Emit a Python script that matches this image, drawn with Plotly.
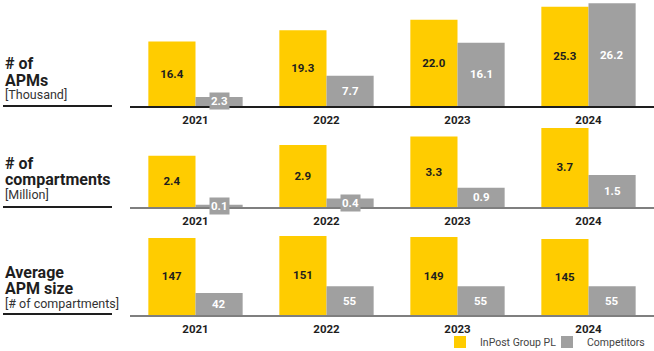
import plotly.graph_objects as go
from plotly.subplots import make_subplots

years = ["2021", "2022", "2023", "2024"]
apms_inpost = [16.4, 19.3, 22.0, 25.3]
apms_comp = [2.3, 7.7, 16.1, 26.2]
comp_inpost = [2.4, 2.9, 3.3, 3.7]
comp_comp = [0.1, 0.4, 0.9, 1.5]
size_inpost = [147, 151, 149, 145]
size_comp = [42, 55, 55, 55]

panel_titles = [("# of", "APMs", "[Thousand]"),
                ("# of", "compartments", "[Million]"),
                ("Average", "APM size", "[# of compartments]")]
fmt = [".1f", ".1f", ".0f"]

YELLOW = "#FFCC00"
GRAY = "#A0A0A0"
DARK = "#1E1E1E"
FONT = "Roboto, Liberation Sans, Arial, sans-serif"

W, H = 654, 351
def py(px):
    return 1 - px / H

# panel pixel geometry: (top, baseline) and y-range max
panels = [(0, 106, 27.0), (120, 207, 4.07), (225, 315, 171.8)]

fig = make_subplots(rows=3, cols=1)
series = [(apms_inpost, apms_comp), (comp_inpost, comp_comp), (size_inpost, size_comp)]

for i, ((inp, comp), f) in enumerate(zip(series, fmt)):
    r = i + 1
    fig.add_trace(go.Bar(x=years, y=inp, name="InPost Group PL", marker_color=YELLOW,
                         marker_line_width=0,
                         text=[format(v, f) for v in inp], textposition="inside",
                         insidetextanchor="middle", textangle=0, constraintext="none",
                         textfont=dict(family=FONT, size=11.5, color=DARK, weight="bold"),
                         showlegend=(i == 2), legendrank=1, hoverinfo="skip"), row=r, col=1)
    fig.add_trace(go.Bar(x=years, y=comp, name="Competitors", marker_color=GRAY,
                         marker_line_width=0, showlegend=(i == 2), legendrank=2,
                         hoverinfo="skip"), row=r, col=1)
    xref = "x" if r == 1 else f"x{r}"
    yref = "y" if r == 1 else f"y{r}"
    for j, v in enumerate(comp):
        fig.add_annotation(x=j, y=v / 2, xref=xref, yref=yref, xshift=23.5,
                           text=format(v, f), showarrow=False, bgcolor=GRAY,
                           borderpad=1,
                           font=dict(family=FONT, size=11.5, color="white", weight="bold"))

x0 = 130 / W
for i, (top, base, ymax) in enumerate(panels):
    r = i + 1
    fig.update_xaxes(row=r, col=1, domain=[x0, 1], type="category",
                     range=[-0.5, len(years) - 0.5], showline=True,
                     linecolor=(DARK if i == 0 else "#7F7F7F"), linewidth=2,
                     showgrid=False, zeroline=False, ticks="", ticklabelstandoff=2,
                     tickfont=dict(family=FONT, size=11.5, color=DARK, weight="bold"),
                     fixedrange=True)
    fig.update_yaxes(row=r, col=1, domain=[py(base), py(top)], range=[0, ymax],
                     visible=False, showgrid=False, zeroline=False, fixedrange=True)

# left panel labels
label_pos = [(63, 80, 94), (163, 180, 194), (272, 288, 303)]
line_y = [106, 207, 314]
for (t1, t2, t3), (y1, y2, y3), ly in zip(panel_titles, label_pos, line_y):
    fig.add_annotation(x=4 / W, y=py(y1), xref="paper", yref="paper", text=t1,
                       xanchor="left", yanchor="middle", showarrow=False, borderpad=0,
                       font=dict(family=FONT, size=16, color=DARK, weight="bold"))
    fig.add_annotation(x=4 / W, y=py(y2), xref="paper", yref="paper", text=t2,
                       xanchor="left", yanchor="middle", showarrow=False, borderpad=0,
                       font=dict(family=FONT, size=16, color=DARK, weight="bold"))
    fig.add_annotation(x=4 / W, y=py(y3), xref="paper", yref="paper", text=t3,
                       xanchor="left", yanchor="middle", showarrow=False, borderpad=0,
                       font=dict(family=FONT, size=12.5, color="#333333"))
    fig.add_shape(type="line", xref="paper", yref="paper", x0=3 / W, x1=112 / W,
                  y0=py(ly), y1=py(ly), line=dict(color=DARK, width=2))

fig.update_layout(
    width=W, height=H, margin=dict(l=0, r=0, t=0, b=0, autoexpand=False),
    plot_bgcolor="white", paper_bgcolor="white",
    barmode="group", bargap=0.28, bargroupgap=0,
    showlegend=True,
    legend=dict(orientation="h", x=1, xanchor="right", y=py(342), yanchor="middle",
                font=dict(family=FONT, size=10.5, color="#444444"),
                itemwidth=30, entrywidth=62, traceorder="normal",
                bgcolor="rgba(0,0,0,0)",
                itemclick=False, itemdoubleclick=False),
)

fig.write_html("out.html")
